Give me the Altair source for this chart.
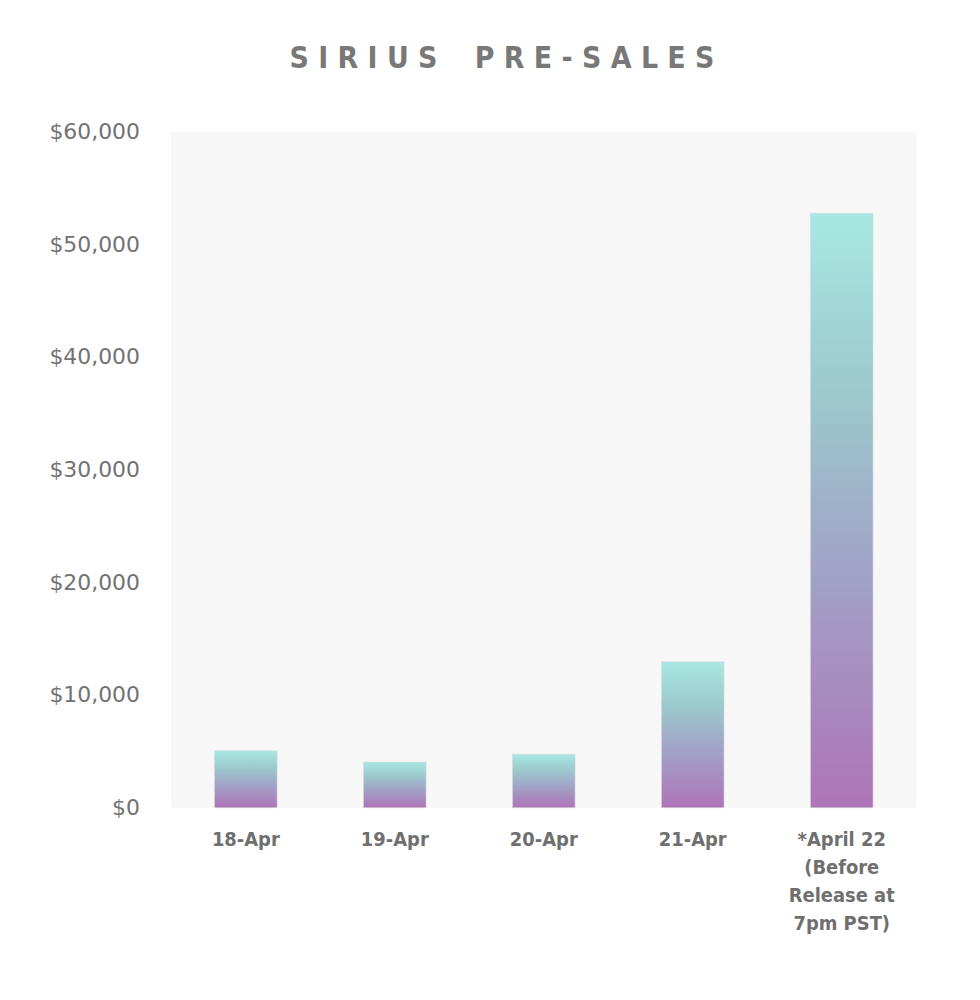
import altair as alt
import pandas as pd

categories = ["18-Apr", "19-Apr", "20-Apr", "21-Apr", "*April 22|(Before|Release at|7pm PST)"]
sales = [5050, 4050, 4750, 12950, 52750]
y_ticks = [0, 10000, 20000, 30000, 40000, 50000, 60000]

df = pd.DataFrame({"day": categories, "sales": sales})

grad = alt.Gradient(
    gradient="linear",
    stops=[
        alt.GradientStop(color="#a8e8e2", offset=0),
        alt.GradientStop(color="#9cc9cd", offset=0.3),
        alt.GradientStop(color="#a1a3c7", offset=0.6),
        alt.GradientStop(color="#ae74b7", offset=1),
    ],
    x1=0, x2=0, y1=0, y2=1,
)

NB = "\u00a0"
title_text = " ".join("SIRIUS") + NB * 3 + " " + " ".join("PRE-SALES")

chart = (
    alt.Chart(df)
    .mark_bar(color=grad, stroke="#d8d8d8", strokeWidth=0.6)
    .encode(
        x=alt.X(
            "day:N",
            sort=categories,
            scale=alt.Scale(paddingInner=0.58, paddingOuter=0.29),
            axis=alt.Axis(
                title=None,
                labelAngle=0,
                labelExpr="split(datum.label, '|')",
                labelFont="DejaVu Sans Condensed",
                labelFontWeight="bold",
                labelFontSize=20,
                labelColor="#6f6f6f",
                labelLineHeight=28,
                labelPadding=22,
                labelBaseline="top",
                ticks=False,
                domain=False,
                grid=False,
            ),
        ),
        y=alt.Y(
            "sales:Q",
            scale=alt.Scale(domain=[0, 60000], nice=False),
            axis=alt.Axis(
                title=None,
                values=y_ticks,
                format="$,.0f",
                labelFont="DejaVu Sans",
                labelFontSize=22,
                labelColor="#727272",
                labelPadding=32,
                ticks=False,
                domain=False,
                grid=False,
            ),
        ),
    )
    .properties(
        width=748,
        height=679,
        background="white",
        autosize=alt.AutoSizeParams(type="none"),
        padding={"left": 164, "top": 122, "right": 56, "bottom": 180},
        title=alt.TitleParams(
            text=title_text,
            font="DejaVu Sans Condensed",
            fontWeight="bold",
            fontSize=30,
            color="#787878",
            anchor="middle",
            dx=-42,
            offset=47,
        ),
    )
    .configure_view(fill="#f7f7f7", stroke="#f7f7f7", strokeWidth=0)
)

chart.save("out.html", embed_options={"renderer": "svg", "actions": False})
